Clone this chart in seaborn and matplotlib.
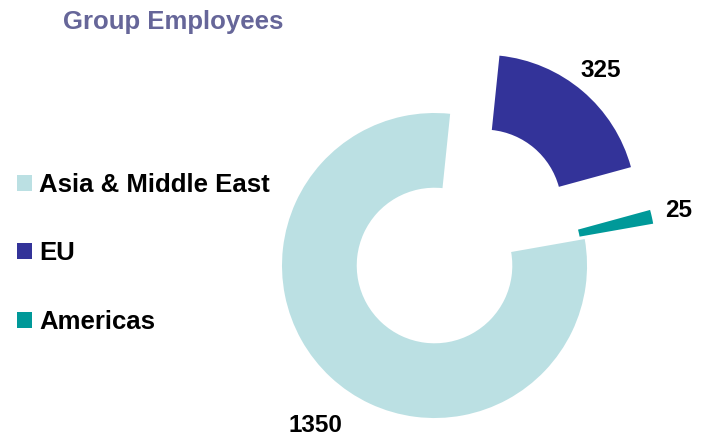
import matplotlib
matplotlib.use('Agg')
import matplotlib.pyplot as plt
import seaborn as sns

# Chart data
REGIONS = ['Asia & Middle East', 'EU', 'Americas']
EMPLOYEES = [1350, 325, 25]
COLORS = ['#BBE0E3', '#333399', '#009999']
EXPLODE = [0.0, 0.5, 0.46]
TITLE = 'Group Employees'

sns.set_theme(style='white')
plt.rcParams['font.family'] = ['Liberation Sans', 'DejaVu Sans']

fig = plt.figure(figsize=(7.06, 4.38), dpi=100)
ax = fig.add_axes([0, 0, 1, 1])

# pie is centred at (0, 0) with radius 1; limits map 1 unit = 152.5 px
wedges, texts = ax.pie(
    EMPLOYEES,
    colors=COLORS,
    explode=EXPLODE,
    startangle=10,
    counterclock=False,
    radius=1.0,
    labels=[str(v) for v in EMPLOYEES],
    labeldistance=1.18,
    wedgeprops={'width': 0.49, 'edgecolor': 'none', 'linewidth': 0},
    textprops={'fontsize': 17.5, 'fontweight': 'bold', 'color': 'black'},
)
for t in texts:
    t.set_horizontalalignment('center')
    t.set_verticalalignment('center')
# the big segment's label sits further out, below-left
texts[0].set_position((-0.78, -1.05))

ax.set_xlim(-2.849, 1.780)
ax.set_ylim(-1.131, 1.741)
ax.set_aspect('auto')
ax.axis('off')

fig.text(63 / 706, 1 - 28.5 / 438, TITLE, ha='left', va='baseline',
         fontsize=18.5, fontweight='bold', color='#666699')

leg = fig.legend(
    wedges, REGIONS,
    loc='center left',
    bbox_to_anchor=(17.3 / 706, 1 - 253.5 / 438),
    frameon=False,
    borderpad=0,
    borderaxespad=0,
    handlelength=0.58,
    handleheight=0.58,
    handletextpad=0.26,
    labelspacing=1.74,
    labelcolor='black',
    prop={'size': 18.5, 'weight': 'bold'},
)

fig.savefig('out.png', dpi=100)
